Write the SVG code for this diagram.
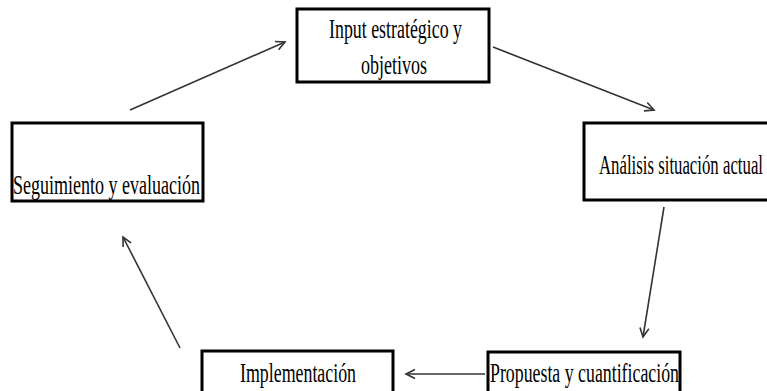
<svg xmlns="http://www.w3.org/2000/svg" width="767" height="391" viewBox="0 0 767 391">
<style>
.box{fill:#fff;stroke:#000;stroke-width:3}
.t{font-family:"Liberation Serif","Times New Roman",serif;font-size:27px;fill:#000}
.c{fill:none;stroke:#333;stroke-width:1.6}
</style>
<defs>
<marker id="ah" markerWidth="12" markerHeight="12" refX="10" refY="5" orient="auto" markerUnits="userSpaceOnUse" viewBox="0 0 12 10">
<path d="M1,0.5 L10,5 L1,9.5" fill="none" stroke="#333" stroke-width="1.6"/>
</marker>
</defs>
<rect width="767" height="391" fill="#fff"/>
<g id="connectors">
<line class="c" x1="130" y1="110" x2="285" y2="42" marker-end="url(#ah)"/>
<line class="c" x1="493" y1="47" x2="654" y2="110" marker-end="url(#ah)"/>
<line class="c" x1="664" y1="207" x2="643" y2="337" marker-end="url(#ah)"/>
<line class="c" x1="485" y1="374" x2="406" y2="374" marker-end="url(#ah)"/>
<line class="c" x1="180" y1="348" x2="123" y2="237" marker-end="url(#ah)"/>
</g>
<g id="input">
<rect class="box" x="297" y="9" width="192" height="73"/>
<text class="t" x="329" y="38" textLength="133" lengthAdjust="spacingAndGlyphs">Input estratégico y</text>
<text class="t" x="361" y="74" textLength="66" lengthAdjust="spacingAndGlyphs">objetivos</text>
</g>
<g id="analisis">
<rect class="box" x="584" y="123" width="200" height="77"/>
<text class="t" x="599" y="174" textLength="164" lengthAdjust="spacingAndGlyphs">Análisis situación actual</text>
</g>
<g id="propuesta">
<rect class="box" x="488" y="352" width="192" height="50"/>
<text class="t" x="490" y="382" textLength="189" lengthAdjust="spacingAndGlyphs">Propuesta y cuantificación</text>
</g>
<g id="implementacion">
<rect class="box" x="202" y="351" width="191" height="50"/>
<text class="t" x="240" y="382" textLength="116" lengthAdjust="spacingAndGlyphs">Implementación</text>
</g>
<g id="seguimiento">
<rect class="box" x="12" y="123" width="191" height="78"/>
<text class="t" x="13" y="194" textLength="187" lengthAdjust="spacingAndGlyphs">Seguimiento y evaluación</text>
</g>
</svg>
